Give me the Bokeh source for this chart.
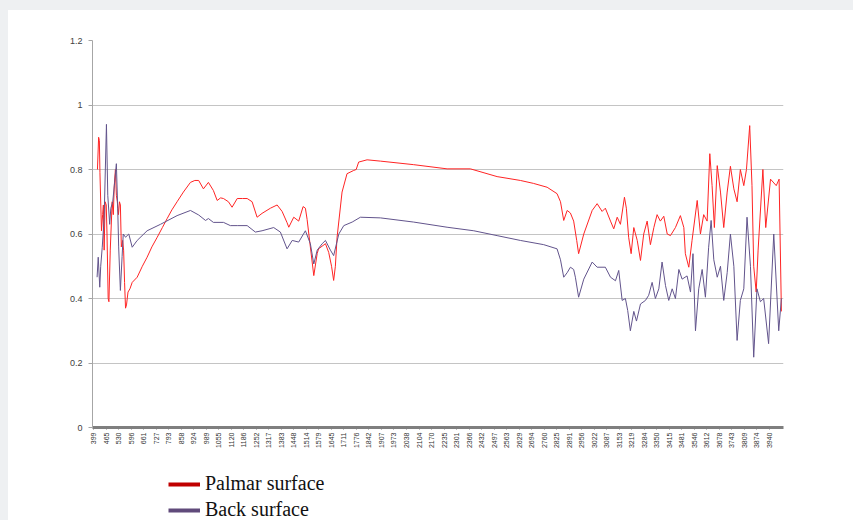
from bokeh.plotting import figure
from bokeh.models import Range1d, FixedTicker, Legend, LegendItem
from bokeh.layouts import column
from bokeh.embed import file_html
from bokeh.resources import INLINE
import math

# ---- data ----
tick_labels = [399, 465, 530, 596, 661, 727, 793, 858, 924, 989, 1055, 1120, 1186, 1252,
               1317, 1383, 1448, 1514, 1579, 1645, 1711, 1776, 1842, 1907, 1973, 2038,
               2104, 2170, 2235, 2301, 2366, 2432, 2497, 2563, 2629, 2694, 2760, 2825,
               2891, 2956, 3022, 3087, 3153, 3219, 3284, 3350, 3415, 3481, 3546, 3612,
               3678, 3743, 3809, 3874, 3940]
y_ticks = [0, 0.2, 0.4, 0.6, 0.8, 1.0, 1.2]
y_tick_labels = ["0", "0.2", "0.4", "0.6", "0.8", "1", "1.2"]

palmar_x = [420, 426, 430, 433, 441, 447, 451, 455, 460, 466, 470, 476, 480, 487, 497, 503,
            508, 514, 519, 524, 530, 535, 540, 545, 552, 557, 562, 567, 572, 580, 590, 602,
            628, 655, 680, 705, 733, 760, 785, 810, 837, 870, 907, 930, 950, 975, 1001, 1027,
            1047, 1065, 1080, 1106, 1125, 1152, 1180, 1204, 1230, 1256, 1282, 1326, 1361,
            1387, 1413, 1422, 1448, 1474, 1497, 1509, 1518, 1535, 1553, 1571, 1578, 1614,
            1631, 1646, 1657, 1666, 1675, 1701, 1727, 1762, 1775, 1788, 1832, 1902, 2076,
            2251, 2373, 2513, 2635, 2703, 2775, 2827, 2845, 2862, 2880, 2897, 2914, 2930,
            2940, 2967, 3011, 3037, 3063, 3080, 3107, 3124, 3142, 3159, 3180, 3190, 3202,
            3215, 3229, 3247, 3264, 3281, 3299, 3316, 3334, 3351, 3368, 3386, 3404, 3421,
            3447, 3473, 3491, 3499, 3517, 3534, 3561, 3578, 3595, 3613, 3627, 3639, 3651,
            3666, 3683, 3700, 3718, 3735, 3753, 3770, 3787, 3805, 3819, 3836, 3848, 3857,
            3870, 3880, 3905, 3920, 3945, 3975, 3990, 4002]
palmar_y = [0.80, 0.90, 0.89, 0.79, 0.61, 0.66, 0.69, 0.55, 0.70, 0.69, 0.60, 0.40, 0.39,
            0.55, 0.70, 0.66, 0.75, 0.80, 0.72, 0.70, 0.66, 0.70, 0.69, 0.56, 0.58, 0.55,
            0.45, 0.37, 0.38, 0.42, 0.43, 0.45, 0.466, 0.50, 0.528, 0.56, 0.59, 0.62, 0.648,
            0.675, 0.70, 0.73, 0.76, 0.766, 0.766, 0.74, 0.76, 0.735, 0.704, 0.712, 0.71,
            0.70, 0.683, 0.71, 0.71, 0.71, 0.70, 0.652, 0.664, 0.68, 0.69, 0.67, 0.635,
            0.621, 0.652, 0.64, 0.685, 0.68, 0.645, 0.56, 0.471, 0.54, 0.554, 0.57, 0.543,
            0.50, 0.456, 0.50, 0.59, 0.73, 0.787, 0.797, 0.80, 0.823, 0.83, 0.826, 0.815,
            0.802, 0.802, 0.778, 0.766, 0.757, 0.745, 0.725, 0.70, 0.642, 0.673, 0.665,
            0.64, 0.58, 0.539, 0.60, 0.673, 0.694, 0.67, 0.68, 0.64, 0.616, 0.652, 0.63,
            0.714, 0.68, 0.59, 0.539, 0.62, 0.58, 0.518, 0.60, 0.64, 0.567, 0.62, 0.66,
            0.64, 0.655, 0.60, 0.595, 0.62, 0.657, 0.62, 0.539, 0.497, 0.58, 0.704, 0.60,
            0.66, 0.64, 0.849, 0.75, 0.62, 0.812, 0.73, 0.62, 0.73, 0.81, 0.74, 0.70, 0.80,
            0.75, 0.80, 0.936, 0.75, 0.50, 0.42, 0.55, 0.80, 0.62, 0.77, 0.75, 0.77, 0.36]

back_x = [418, 424, 432, 437, 445, 455, 467, 474, 484, 490, 500, 510, 519, 526, 531, 540,
          549, 555, 567, 584, 602, 628, 680, 750, 837, 907, 950, 986, 1001, 1027, 1080, 1116,
          1152, 1204, 1247, 1282, 1343, 1378, 1413, 1440, 1474, 1509, 1535, 1553, 1571,
          1597, 1614, 1640, 1657, 1684, 1710, 1754, 1797, 1902, 2076, 2251, 2391, 2513,
          2635, 2757, 2827, 2845, 2862, 2880, 2897, 2914, 2923, 2940, 2967, 3011, 3037,
          3080, 3107, 3133, 3150, 3168, 3185, 3197, 3211, 3229, 3243, 3264, 3290, 3307,
          3325, 3342, 3360, 3377, 3395, 3412, 3430, 3447, 3465, 3482, 3508, 3526, 3539,
          3552, 3569, 3587, 3604, 3621, 3634, 3648, 3666, 3683, 3700, 3718, 3735, 3753,
          3770, 3787, 3805, 3822, 3840, 3857, 3874, 3892, 3909, 3935, 3962, 3988, 4002]
back_y = [0.466, 0.528, 0.435, 0.50, 0.559, 0.65, 0.94, 0.72, 0.63, 0.68, 0.70, 0.76, 0.818,
          0.68, 0.56, 0.425, 0.53, 0.60, 0.59, 0.60, 0.559, 0.58, 0.61, 0.63, 0.657, 0.673,
          0.659, 0.642, 0.648, 0.636, 0.636, 0.626, 0.626, 0.626, 0.606, 0.61, 0.62, 0.606,
          0.554, 0.58, 0.575, 0.61, 0.57, 0.507, 0.55, 0.57, 0.58, 0.55, 0.533, 0.60, 0.626,
          0.637, 0.652, 0.65, 0.637, 0.621, 0.61, 0.595, 0.58, 0.567, 0.554, 0.52, 0.466,
          0.48, 0.497, 0.49, 0.466, 0.404, 0.46, 0.513, 0.497, 0.497, 0.466, 0.455, 0.487,
          0.394, 0.40, 0.363, 0.30, 0.36, 0.33, 0.383, 0.394, 0.41, 0.45, 0.40, 0.43, 0.513,
          0.44, 0.394, 0.43, 0.40, 0.49, 0.46, 0.47, 0.42, 0.539, 0.30, 0.43, 0.49, 0.404,
          0.559, 0.642, 0.52, 0.466, 0.50, 0.394, 0.48, 0.60, 0.50, 0.27, 0.394, 0.43,
          0.652, 0.50, 0.218, 0.43, 0.39, 0.40, 0.26, 0.60, 0.30, 0.40]

series_names = ["Palmar surface", "Back surface"]
line_colors = ["#ff2424", "#62548c"]
legend_colors = ["#c00000", "#604a7b"]

# ---- main chart ----
p = figure(frame_width=691, frame_height=387,
           min_border_left=84, min_border_right=70, min_border_top=30, min_border_bottom=40,
           x_range=Range1d(394, 4013), y_range=Range1d(0, 1.2),
           output_backend="svg", toolbar_location=None,
           background_fill_color="white", border_fill_color="white")
p.outline_line_color = None

p.line(palmar_x, palmar_y, line_color=line_colors[0], line_width=1)
p.line(back_x, back_y, line_color=line_colors[1], line_width=1)

# y axis
p.yaxis.ticker = FixedTicker(ticks=y_ticks)
p.yaxis.major_label_overrides = {t: s for t, s in zip(y_ticks, y_tick_labels)}
p.yaxis.axis_line_color = "#a6a6a6"
p.yaxis.major_tick_line_color = "#a6a6a6"
p.yaxis.major_tick_out = 4
p.yaxis.major_tick_in = 0
p.yaxis.minor_tick_line_color = None
p.yaxis.major_label_text_font = "Liberation Sans"
p.yaxis.major_label_text_font_size = "9px"
p.yaxis.major_label_text_color = "#404040"
p.yaxis.major_label_standoff = 6

# x axis
p.xaxis.ticker = FixedTicker(ticks=tick_labels)
p.xaxis.major_label_overrides = {t: str(t) for t in tick_labels}
p.xaxis.axis_line_color = "#7f7f7f"
p.xaxis.axis_line_width = 3
p.xaxis.major_tick_line_color = "#7f7f7f"
p.xaxis.major_tick_out = 2
p.xaxis.major_tick_in = 0
p.xaxis.minor_tick_line_color = None
p.xaxis.major_label_orientation = math.pi / 2
p.xaxis.major_label_text_font = "Liberation Sans"
p.xaxis.major_label_text_font_size = "7px"
p.xaxis.major_label_text_color = "#333333"
p.xaxis.major_label_standoff = 3

p.xgrid.grid_line_color = None
p.ygrid.ticker = FixedTicker(ticks=y_ticks)
p.ygrid.grid_line_color = "#c4c4c4"
p.ygrid.grid_line_width = 1

# ---- legend strip under the chart ----
q = figure(frame_width=845, frame_height=53,
           min_border_left=0, min_border_right=0, min_border_top=0, min_border_bottom=0,
           x_range=Range1d(0, 1), y_range=Range1d(0, 1),
           x_axis_type=None, y_axis_type=None,
           output_backend="svg", toolbar_location=None,
           background_fill_color="white", border_fill_color="white")
q.outline_line_color = None
q.xgrid.grid_line_color = None
q.ygrid.grid_line_color = None
# swatch renderers: their points sit outside the visible range, only the legend shows them
r1 = q.line([-5, -4], [-5, -4], line_color=legend_colors[0], line_width=4)
r2 = q.line([-5, -4], [-5, -4], line_color=legend_colors[1], line_width=4)
legend = Legend(items=[LegendItem(label=series_names[0], renderers=[r1]),
                       LegendItem(label=series_names[1], renderers=[r2])],
                location=(160, -1), orientation="vertical",
                glyph_width=32, glyph_height=20, label_height=20, spacing=3,
                label_standoff=5, padding=0, margin=0,
                label_text_font="Liberation Serif", label_text_font_size="20px",
                label_text_color="#111111",
                border_line_alpha=0, background_fill_alpha=0)
q.add_layout(legend, "center")

layout = column(p, q, spacing=0, styles={"background-color": "white"})

html = file_html(layout, INLINE)
html = html.replace("</head>",
                    "<style>html,body{background:#eef0f2;margin:0;padding:0;}"
                    "body{padding:10px 0 0 8px;}</style></head>", 1)
open("out.html", "w").write(html)
